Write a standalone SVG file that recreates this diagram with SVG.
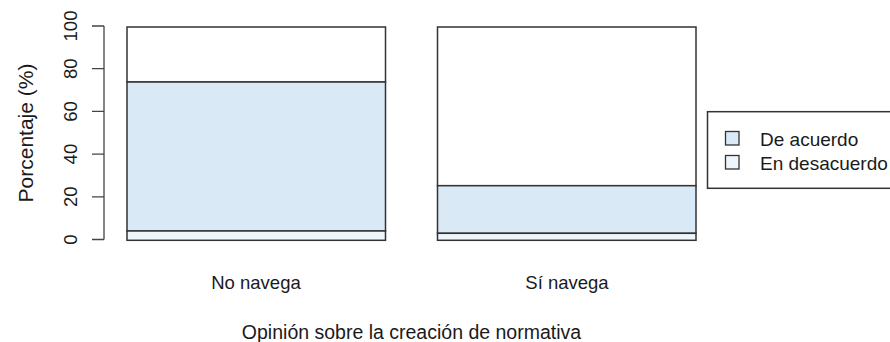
<svg xmlns="http://www.w3.org/2000/svg" width="890" height="342" viewBox="0 0 890 342">
<style>
text{font-family:"Liberation Sans",Arial,sans-serif;fill:#1a1a1a;font-size:18.5px}
.seg{stroke:#333;stroke-width:1.5}
.agree{fill:#DAE9F6}
.dis{fill:#EEF5FB}
.oth{fill:#FFFFFF}
.axis{stroke:#444;stroke-width:1.3;fill:none}
</style>
<rect width="890" height="342" fill="#fff"/>
<g id="y-axis">
<path class="axis" d="M104 26V239.5M92 26H104M92 68.7H104M92 111.4H104M92 154.1H104M92 196.8H104M92 239.5H104"/>
<text transform="translate(77,239.5) rotate(-90)" text-anchor="middle">0</text>
<text transform="translate(77,196.8) rotate(-90)" text-anchor="middle">20</text>
<text transform="translate(77,154.1) rotate(-90)" text-anchor="middle">40</text>
<text transform="translate(77,111.4) rotate(-90)" text-anchor="middle">60</text>
<text transform="translate(77,68.7) rotate(-90)" text-anchor="middle">80</text>
<text transform="translate(77,26) rotate(-90)" text-anchor="middle">100</text>
<text transform="translate(32.5,133) rotate(-90)" text-anchor="middle" style="font-size:21px">Porcentaje (%)</text>
</g>
<g id="bar-no-navega">
<rect class="seg oth" x="127" y="27" width="258.5" height="55"/>
<rect class="seg agree" x="127" y="82" width="258.5" height="149"/>
<rect class="seg dis" x="127" y="231" width="258.5" height="9.3"/>
<text x="256" y="288.5" text-anchor="middle">No navega</text>
</g>
<g id="bar-si-navega">
<rect class="seg oth" x="437.5" y="27" width="258.5" height="158.7"/>
<rect class="seg agree" x="437.5" y="185.7" width="258.5" height="47.6"/>
<rect class="seg dis" x="437.5" y="233.3" width="258.5" height="7"/>
<text x="567" y="288.5" text-anchor="middle">Sí navega</text>
</g>
<g id="legend">
<rect x="707.5" y="111.7" width="200" height="76.6" fill="#fff" stroke="#333" stroke-width="1.5"/>
<rect class="agree" x="725.5" y="131.5" width="13.5" height="13.5" stroke="#333" stroke-width="1.3"/>
<rect class="dis" x="725.5" y="155.5" width="13.5" height="13.5" stroke="#333" stroke-width="1.3"/>
<text x="760" y="145.5" style="font-size:19px">De acuerdo</text>
<text x="760" y="169.5" style="font-size:19px">En desacuerdo</text>
</g>
<g id="connectors"></g>
<text id="x-title" x="411.5" y="339" text-anchor="middle" style="font-size:19.5px">Opinión sobre la creación de normativa</text>
</svg>
